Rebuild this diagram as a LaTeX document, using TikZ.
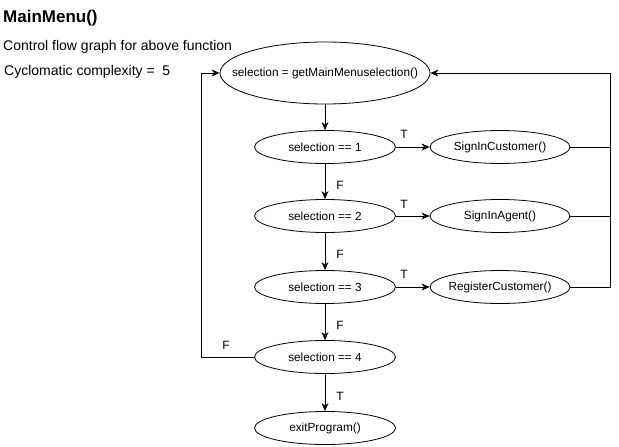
\documentclass[tikz,border=0pt]{standalone}
\usepackage{fontspec}
\setmainfont{Liberation Sans}
\usetikzlibrary{shapes.geometric,arrows.meta}
\begin{document}
\begin{tikzpicture}[x=1pt,y=-1pt,
  ell/.style={draw,ellipse,line width=0.8pt,minimum width=141pt,minimum height=33pt,inner sep=0pt,
    label={[inner sep=0pt,font=\fontsize{11.8}{13}\selectfont]center:#1}},
  conn/.style={line width=0.8pt},
  arr/.style={conn,-{Stealth[length=8pt,width=7pt,inset=2.5pt]}},
  lbl/.style={inner sep=0pt,font=\fontsize{12}{14}\selectfont},
  txt/.style={inner sep=0pt,anchor=base west}]
\useasboundingbox[fill=white] (0,0) rectangle (619,447);
\node[txt,font=\fontsize{17}{20}\selectfont\bfseries] (title) at (3,22.7) {MainMenu()};
\node[txt,font=\fontsize{14}{16}\selectfont] (cfg) at (3,50.5) {Control flow graph for above function};
\node[txt,font=\fontsize{14}{16}\selectfont] (cc) at (4,75) {Cyclomatic complexity =\ \ 5};

\node[ell={selection = getMainMenuselection()},minimum width=210pt,minimum height=62pt] (top) at (325,73) {};
\node[ell={selection == 1}] (s1) at (325,147) {};
\node[ell={selection == 2}] (s2) at (325,216) {};
\node[ell={selection == 3}] (s3) at (325,287) {};
\node[ell={selection == 4}] (s4) at (325,357) {};
\node[ell={exitProgram()}] (ex) at (325,428) {};
\node[ell={SignInCustomer()},minimum width=140pt] (sic) at (500,147) {};
\node[ell={SignInAgent()},minimum width=140pt] (sia) at (500,216) {};
\node[ell={RegisterCustomer()},minimum width=140pt] (rc) at (500,287) {};

\coordinate (R) at (610,73);
\coordinate (L) at (201,73);

\draw[arr] (top) -- (s1);
\draw[arr] (s1) -- (s2);
\draw[arr] (s2) -- (s3);
\draw[arr] (s3) -- (s4);
\draw[arr] (s4) -- (ex);
\draw[arr] (s1) -- (sic);
\draw[arr] (s2) -- (sia);
\draw[arr] (s3) -- (rc);
\draw[conn] (sic.east) -- (sic.east -| R);
\draw[conn] (sia.east) -- (sia.east -| R);
\draw[arr] (rc.east) -| (R) -- (top.east);
\draw[arr] (s4.west) -| (L) -- (top.west);

\node[lbl] (t1) at (404,134) {T};
\node[lbl] (t2) at (404,204) {T};
\node[lbl] (t3) at (404,274) {T};
\node[lbl] (f1) at (340,185) {F};
\node[lbl] (f2) at (340,254) {F};
\node[lbl] (f3) at (340,325) {F};
\node[lbl] (t4) at (340,396) {T};
\node[lbl] (f4) at (226,345) {F};
\end{tikzpicture}
\end{document}
